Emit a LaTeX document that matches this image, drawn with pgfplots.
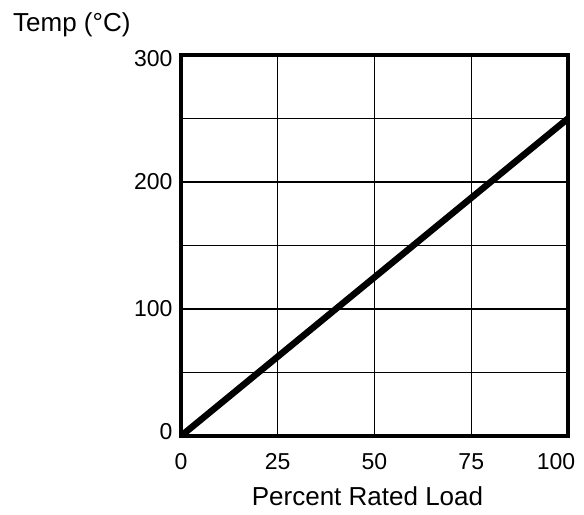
\documentclass[border=0pt]{standalone}
\usepackage{graphicx}
\usepackage{pgfplots}
\pgfplotsset{compat=1.18}
\usepackage{fontspec}
\setmainfont{Liberation Sans}
\begin{document}
\begin{tikzpicture}
\path[use as bounding box] (0,0) rectangle (584bp,515bp);
\begin{axis}[
  at={(181bp,79bp)}, anchor=south west,
  width=387bp, height=381bp, scale only axis=true,
  xmin=0, xmax=100, ymin=0, ymax=300,
  xtick={0,25,50,75,100},
  xticklabels={0,25,50,75,\makebox[0pt]{\hspace{-24bp}100}},
  ytick={0,50,100,150,200,250,300},
  yticklabels={\raisebox{4bp}[\height][\depth]{0},,100,,200,,\raisebox{-4bp}[\height][\depth]{300}},
  major tick length=0pt,
  grid=major,
  grid style={black, line width=1.3bp},
  axis line style={black, line width=3.5bp},
  tick label style={font=\fontsize{23bp}{26bp}\selectfont},
  xticklabel style={yshift=-14bp},
  yticklabel style={xshift=-5bp},
  xlabel={Percent Rated Load},
  ylabel={Temp (°C)},
  label style={font=\fontsize{26bp}{30bp}\selectfont},
  xlabel style={at={(rel axis cs:0.5,0)}, anchor=center, yshift=-60bp, xshift=-7bp},
  ylabel style={at={(rel axis cs:0,1)}, rotate=-90, anchor=west, inner sep=0pt, xshift=-168bp, yshift=30bp},
]
\addplot[black, line width=6.5bp] coordinates {(0,0) (100,250)};
\end{axis}
\end{tikzpicture}
\end{document}
